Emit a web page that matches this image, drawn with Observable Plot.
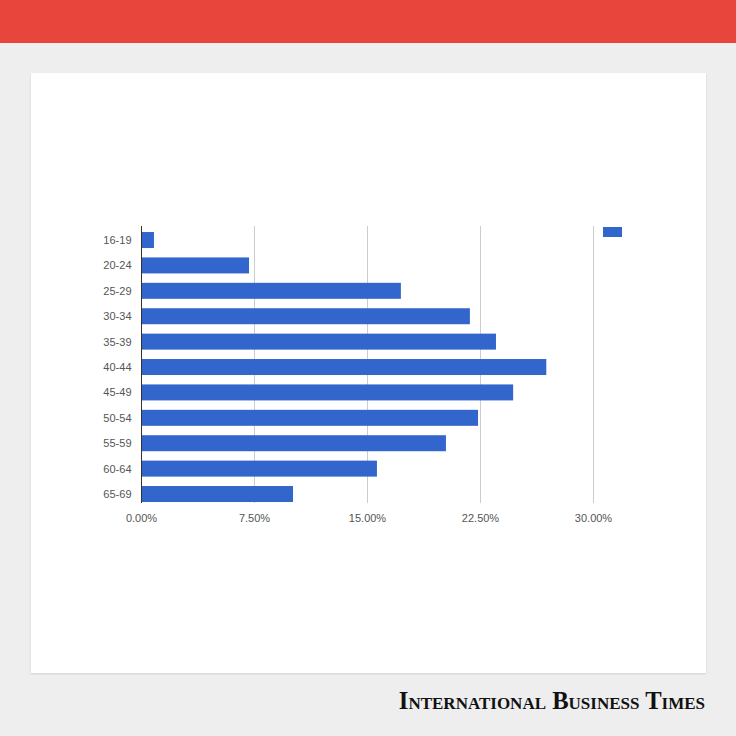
<!DOCTYPE html>
<html>
<head>
<meta charset="utf-8">
<script src="https://cdn.jsdelivr.net/npm/d3@7"></script>
<script src="https://cdn.jsdelivr.net/npm/@observablehq/plot@0.6"></script>
<style>
  html, body { margin: 0; padding: 0; }
  body { width: 736px; height: 736px; background: #eeeeee; position: relative; overflow: hidden; font-family: Arial, "Liberation Sans", sans-serif; }
  #bar { position: absolute; left: 0; top: 0; width: 736px; height: 43px; background: #e8453c; }
  #card { position: absolute; left: 31px; top: 73px; width: 675px; height: 600px; background: #fff; box-shadow: 0 1px 2px rgba(0,0,0,0.12); }
  #chart { position: absolute; left: 0; top: 0; }
  #swatch { position: absolute; left: 572px; top: 154px; width: 19px; height: 10px; background: #3366cc; }
  #brand { position: absolute; right: 31px; top: 687px; font-family: "Liberation Serif", "DejaVu Serif", serif; font-weight: bold; font-variant: small-caps; font-size: 24.6px; letter-spacing: 0px; color: #111; white-space: nowrap; }
</style>
</head>
<body>
<div id="bar"></div>
<div id="card"><div id="chart"></div><div id="swatch"></div></div>
<div id="brand">International Business Times</div>
<script>
const ageGroups = ["16-19","20-24","25-29","30-34","35-39","40-44","45-49","50-54","55-59","60-64","65-69"];
const shares = [0.86, 7.17, 17.25, 21.83, 23.56, 26.9, 24.7, 22.37, 20.24, 15.66, 10.09];
const xTicks = [0, 7.5, 15, 22.5, 30];

const data = ageGroups.map((g, i) => ({group: g, value: shares[i]}));

const chart = Plot.plot({
  width: 675,
  height: 600,
  marginLeft: 110,
  marginRight: 113,
  marginTop: 153,
  marginBottom: 170,
  style: {fontFamily: "Arial, 'Liberation Sans', sans-serif", fontSize: "11px", color: "#555", background: "transparent"},
  x: {domain: [0, 30], ticks: xTicks, label: null, tickFormat: d => d.toFixed(2) + "%"},
  y: {domain: ageGroups, label: null, paddingInner: 0.37, paddingOuter: 0.138, align: 0.86, round: false},
  marks: [
    Plot.gridX(xTicks, {stroke: "#cccccc", strokeOpacity: 1}),
    Plot.barX(data, {x: "value", y: "group", fill: "#3366cc"}),
    Plot.ruleX([0], {stroke: "#333333"}),
    Plot.axisX({ticks: xTicks, tickSize: 0, tickPadding: 11, tickFormat: d => d.toFixed(2) + "%", fill: "#555", label: null}),
    Plot.axisY({tickSize: 0, tickPadding: 10, fill: "#555", label: null})
  ]
});
document.getElementById("chart").appendChild(chart);
</script>
</body>
</html>
